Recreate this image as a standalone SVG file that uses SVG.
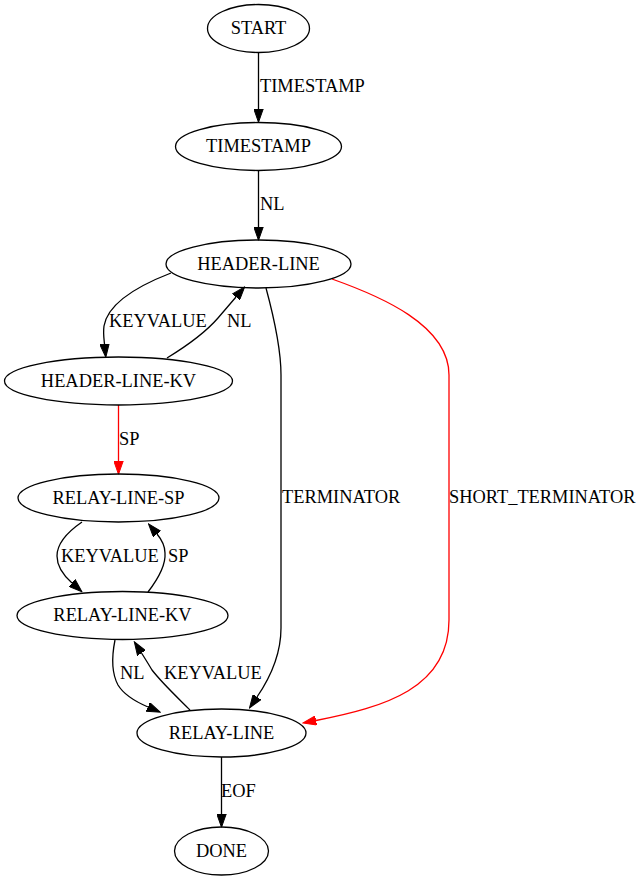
<svg xmlns="http://www.w3.org/2000/svg" width="643" height="880" viewBox="0 0 643 880">
<style>
.node ellipse{fill:none;stroke:#000;stroke-width:1.3}
text{font-family:"Liberation Serif","Times New Roman",serif;font-size:18.4px;fill:#000}
.node text{text-anchor:middle}
.e{fill:none;stroke:#000;stroke-width:1.3}
.r{fill:none;stroke:#ff0000;stroke-width:1.3}
</style>
<defs>
<marker id="ab" markerUnits="userSpaceOnUse" markerWidth="14" markerHeight="10" viewBox="0 -5 14 10" refX="0" refY="0" orient="auto">
<polygon points="0,-4.7 13.3,0 0,4.7" fill="#000" stroke="#000" stroke-width="1"/>
</marker>
<marker id="ar" markerUnits="userSpaceOnUse" markerWidth="14" markerHeight="10" viewBox="0 -5 14 10" refX="0" refY="0" orient="auto">
<polygon points="0,-4.7 13.3,0 0,4.7" fill="#ff0000" stroke="#ff0000" stroke-width="1"/>
</marker>
</defs>
<rect width="643" height="880" fill="#fff"/>
<g id="edges">
<path class="e" marker-end="url(#ab)" d="M258.5,52.5 L258.5,109"/>
<text x="260" y="92">TIMESTAMP</text>
<path class="e" marker-end="url(#ab)" d="M258.5,170.5 L258.5,227"/>
<text x="260" y="210">NL</text>
<path class="e" marker-end="url(#ab)" d="M171,273 C140,285 108,303 104,326 C103,333 104,339 104.5,344"/>
<text x="109" y="327">KEYVALUE</text>
<path class="e" marker-end="url(#ab)" d="M167,358 C185,347 205,333 218,318 C224,311 230,304 236,297"/>
<text x="227" y="327">NL</text>
<path class="e" marker-end="url(#ab)" d="M266,288 C276,325 281,355 281,375 L281,628 C281,655 270,678 257,697"/>
<text x="282" y="503">TERMINATOR</text>
<path class="r" marker-end="url(#ar)" d="M332,279 C380,296 449,325 449,375 L449,620 C449,688 385,707 316,720.5"/>
<text x="449" y="503">SHORT_TERMINATOR</text>
<path class="r" marker-end="url(#ar)" d="M118.5,405 L118.5,461"/>
<text x="119" y="445">SP</text>
<path class="e" marker-end="url(#ab)" d="M82,522 C66,533 57,545 57,556 C57,566 63,575 72,583"/>
<text x="61" y="562">KEYVALUE</text>
<path class="e" marker-end="url(#ab)" d="M148,592 C158,579 166,566 165,553 C165,547 162,540 157,534"/>
<text x="168" y="562">SP</text>
<path class="e" marker-end="url(#ab)" d="M115,640 C112,655 111,672 118,685 C124,695 134,701 148,707"/>
<text x="120" y="679">NL</text>
<path class="e" marker-end="url(#ab)" d="M190,710 C177,697 162,683 152,670 C149,665 146,660 141.5,653"/>
<text x="164" y="679">KEYVALUE</text>
<path class="e" marker-end="url(#ab)" d="M221.5,757 L221.5,814"/>
<text x="221" y="797">EOF</text>
</g>
<g id="START" class="node"><ellipse cx="258.5" cy="28.5" rx="51" ry="24"/><text x="258.5" y="34">START</text></g>
<g id="TIMESTAMP" class="node"><ellipse cx="258.5" cy="146.5" rx="83" ry="24"/><text x="258.5" y="152">TIMESTAMP</text></g>
<g id="HEADER-LINE" class="node"><ellipse cx="258.5" cy="264" rx="92.5" ry="24"/><text x="258.5" y="269.5">HEADER-LINE</text></g>
<g id="HEADER-LINE-KV" class="node"><ellipse cx="118.5" cy="381" rx="114" ry="24"/><text x="118.5" y="386.5">HEADER-LINE-KV</text></g>
<g id="RELAY-LINE-SP" class="node"><ellipse cx="118.5" cy="498" rx="100.5" ry="24"/><text x="118.5" y="503.5">RELAY-LINE-SP</text></g>
<g id="RELAY-LINE-KV" class="node"><ellipse cx="122.5" cy="615.5" rx="105.5" ry="24"/><text x="122.5" y="621">RELAY-LINE-KV</text></g>
<g id="RELAY-LINE" class="node"><ellipse cx="221.5" cy="733" rx="84.5" ry="24"/><text x="221.5" y="738.5">RELAY-LINE</text></g>
<g id="DONE" class="node"><ellipse cx="221.5" cy="851" rx="47" ry="24"/><text x="221.5" y="856.5">DONE</text></g>
</svg>
